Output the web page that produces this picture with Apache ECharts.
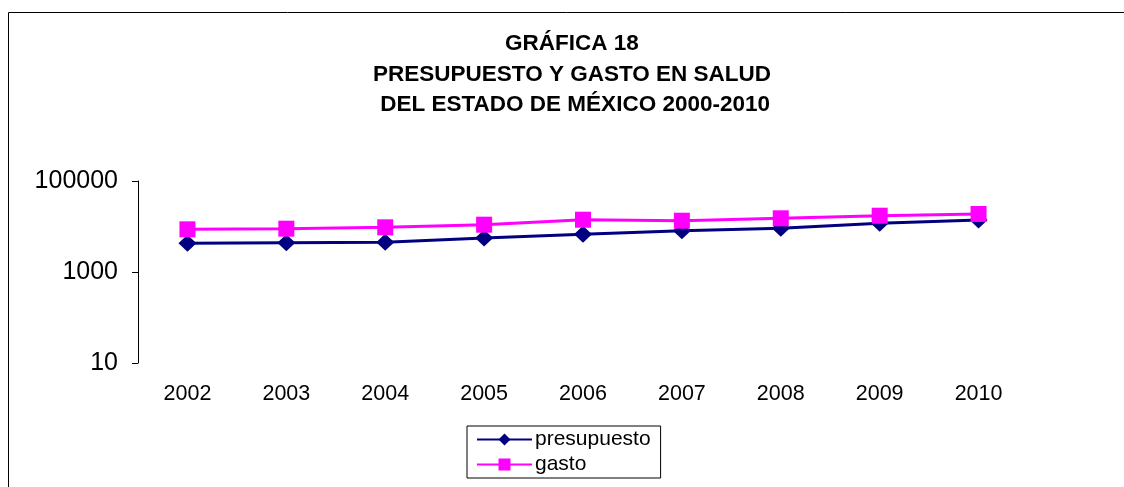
<!DOCTYPE html>
<html>
<head>
<meta charset="utf-8">
<script src="https://cdn.jsdelivr.net/npm/echarts@6/dist/echarts.min.js"></script>
<style>
  html, body { margin: 0; padding: 0; background: #fff; }
  #chart { width: 1124px; height: 487px; }
</style>
</head>
<body>
<div id="chart"></div>
<script>
// años
const years = ['2002', '2003', '2004', '2005', '2006', '2007', '2008', '2009', '2010']
// presupuesto (escala logarítmica)
const presupuesto = [4270, 4400, 4500, 5590, 6740, 8090, 9130, 11750, 13900]
// gasto
const gasto = [8670, 8950, 9600, 10960, 14100, 13410, 15140, 17270, 18820]
// marcas del eje Y: 10, 1000, 100000 (exponentes de 10)
const yTickExp = { min: 1, max: 5, step: 2 }

const chart = echarts.init(document.getElementById('chart'))
const font = '"Liberation Sans", Arial, sans-serif'

const option = {
  backgroundColor: '#fff',
  animation: false,
  textStyle: { fontFamily: font },
  title: {
    text: 'GRÁFICA 18\nPRESUPUESTO Y GASTO EN SALUD\n DEL ESTADO DE MÉXICO 2000-2010',
    left: 567,
    top: 24,
    textAlign: 'center',
    textStyle: { fontFamily: font, fontSize: 22.5, fontWeight: 'bold', color: '#000', lineHeight: 30.5 }
  },
  graphic: [
    {
      type: 'rect',
      shape: { x: 8.5, y: 12.5, width: 1200, height: 600 },
      style: { fill: 'none', stroke: '#000', lineWidth: 1 },
      silent: true
    }
  ],
  legend: {
    orient: 'vertical',
    left: 467,
    top: 426,
    data: ['presupuesto', 'gasto'],
    itemWidth: 55,
    itemHeight: 15,
    itemGap: 4,
    padding: [3, 10, 3, 9],
    borderColor: '#000',
    borderWidth: 1,
    textStyle: { fontFamily: font, fontSize: 21, color: '#000', padding: [0, 0, 0, -2] }
  },
  grid: { left: 138, top: 181, width: 890, height: 182 },
  xAxis: {
    type: 'category',
    data: years,
    axisLine: { show: false },
    axisTick: { show: false },
    axisLabel: { fontFamily: font, fontSize: 21.5, color: '#000', margin: 20 }
  },
  yAxis: [
    {
      // eje logarítmico que sitúa los datos
      type: 'log',
      logBase: 10,
      min: 10,
      max: 100000,
      show: false
    },
    {
      // eje visible: marcas cada dos décadas
      type: 'value',
      position: 'left',
      min: yTickExp.min,
      max: yTickExp.max,
      interval: yTickExp.step,
      axisLine: { show: true, lineStyle: { color: '#000', width: 1 } },
      axisTick: { show: true, length: 6, lineStyle: { color: '#000' } },
      splitLine: { show: false },
      axisLabel: {
        fontFamily: font, fontSize: 25, color: '#000', margin: 20,
        formatter: v => String(Math.pow(10, v))
      }
    }
  ],
  series: [
    {
      name: 'presupuesto',
      type: 'line',
      yAxisIndex: 0,
      data: presupuesto,
      symbol: 'diamond',
      symbolSize: [18, 17],
      lineStyle: { color: '#000080', width: 3 },
      itemStyle: { color: '#000080' }
    },
    {
      name: 'gasto',
      type: 'line',
      yAxisIndex: 0,
      data: gasto,
      symbol: 'rect',
      symbolSize: [16, 16],
      lineStyle: { color: '#ff00ff', width: 3 },
      itemStyle: { color: '#ff00ff' }
    }
  ]
}

chart.setOption(option)
</script>
</body>
</html>
